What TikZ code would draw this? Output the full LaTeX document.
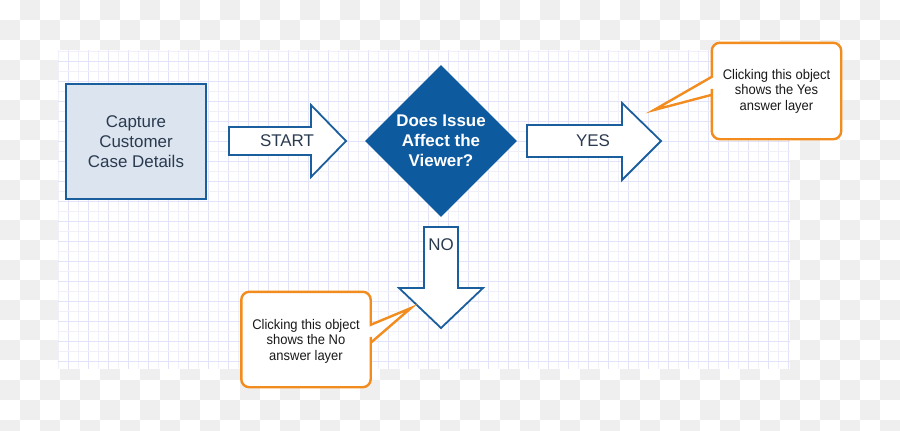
\documentclass[tikz,border=0pt]{standalone}
\usepackage{fontspec}
\setmainfont{Liberation Sans}
\newfontfamily\notefont[FakeStretch=0.93]{Liberation Sans}
\usetikzlibrary{shapes.geometric,calc}

\definecolor{flowblue}{HTML}{1A5E9E}
\definecolor{diamondblue}{HTML}{0E5A9E}
\definecolor{boxfill}{HTML}{DCE4EF}
\definecolor{navytext}{HTML}{2A3A4F}
\definecolor{noteorange}{HTML}{F28C1E}
\definecolor{checkgray}{HTML}{EFEFEF}
\definecolor{gridmajor}{HTML}{E2E2F8}
\definecolor{gridminor}{HTML}{F0F0FA}

\begin{document}
\begin{tikzpicture}[x=1bp, y=-1bp,
    taskbox/.style={rectangle, draw=flowblue, line width=2bp, fill=boxfill, text=navytext, minimum width=140bp, minimum height=115bp, align=center, font=\fontsize{17}{20}\selectfont},
    decision/.style={diamond, fill=diamondblue, text=white, inner sep=0pt, minimum width=152bp, minimum height=152bp, align=center, font=\fontsize{17}{20}\selectfont\bfseries},
    blockarrow/.style={draw=flowblue, line width=1.8bp, fill=white, line join=miter},
    arrowlabel/.style={text=navytext, font=\fontsize{17}{20}\selectfont},
    notetext/.style={text=black!90, align=center, inner sep=0pt, minimum width=129bp, minimum height=96bp, font=\notefont\fontsize{14}{15.5}\selectfont},
    noteline/.style={draw=noteorange, line width=2.4bp, fill=white, line join=miter}
]
\useasboundingbox (0,0) rectangle (900,430);

% Checkerboard backdrop
\fill[white] (0,0) rectangle (900,430);
\foreach \i in {0,...,44}
  \foreach \j in {0,...,21}
    {\pgfmathparse{int(mod(\i+\j,2))}
     \ifnum\pgfmathresult=1 \fill[checkgray] (20*\i,20*\j) rectangle ++(20,20); \fi}

% Grid paper
\fill[white] (58,50) rectangle (790,369);
\foreach \gx in {58,78,...,778} \draw[gridminor, line width=1bp] (\gx,50) -- (\gx,369);
\foreach \gx in {68,88,...,788} \draw[gridmajor, line width=1bp] (\gx,50) -- (\gx,369);
\foreach \gy in {51.7,71.7,...,360} \draw[gridminor, line width=1bp] (58,\gy) -- (790,\gy);
\foreach \gy in {61.7,81.7,...,362} \draw[gridmajor, line width=1bp] (58,\gy) -- (790,\gy);

% Flow
\node[taskbox] (capture) at (136,141.5) {Capture\\Customer\\Case Details};
\node[decision] (issue) at (441,141) {Does Issue\\Affect the\\Viewer?};

% Block arrows
\draw[blockarrow] (229,127) -- (311,127) -- (311,105) -- (346,141) -- (311,177) -- (311,155) -- (229,155) -- cycle;
\node[arrowlabel] (start) at (287,141) {START};

\draw[blockarrow] (527,125) -- (622,125) -- (622,103) -- (661,141) -- (622,180) -- (622,157) -- (527,157) -- cycle;
\node[arrowlabel] (yes) at (593,141) {YES};

\draw[blockarrow] (424,227) -- (458,227) -- (458,288) -- (483,288) -- (441,328) -- (399,288) -- (424,288) -- cycle;
\node[arrowlabel] (no) at (441,245) {NO};

% Callouts
\coordinate (yestip) at (654,110);
\node[notetext] (yesnote) at (776.5,91) {};
\path[noteline] ($(yesnote.north west)+(0,34)$) -- ($(yesnote.north west)+(0,32)$) [rounded corners=8bp]
  -- (yesnote.north west) -- (yesnote.north east) -- (yesnote.south east) -- (yesnote.south west)
  -- ($(yesnote.north west)+(0,54)$) [sharp corners] -- ($(yesnote.north west)+(0,52)$) -- (yestip) -- cycle;
\node[notetext] at (yesnote) {Clicking this object\\shows the Yes\\answer layer};

\coordinate (notip) at (411,308);
\node[notetext, minimum height=95bp] (nonote) at (306,339.5) {};
\path[noteline] ($(nonote.north east)+(0,33)$) -- ($(nonote.north east)+(0,31)$) [rounded corners=8bp]
  -- (nonote.north east) -- (nonote.north west) -- (nonote.south west) -- (nonote.south east)
  -- ($(nonote.north east)+(0,53)$) [sharp corners] -- ($(nonote.north east)+(0,51)$) -- (notip) -- cycle;
\node[notetext] at ($(nonote)+(0,1.5)$) {Clicking this object\\shows the No\\answer layer};

\end{tikzpicture}
\end{document}
